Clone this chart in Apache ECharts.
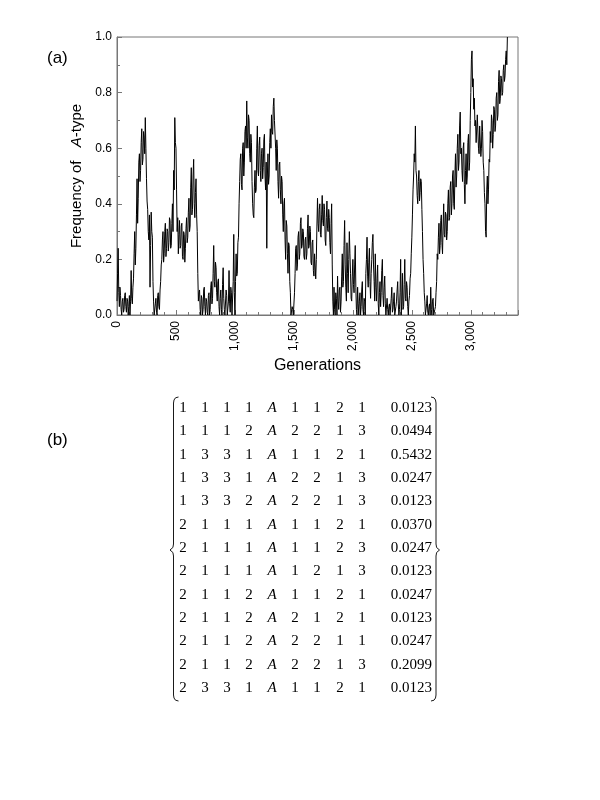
<!DOCTYPE html>
<html>
<head>
<meta charset="utf-8">
<script src="https://cdn.jsdelivr.net/npm/echarts@6/dist/echarts.min.js"></script>
<style>
html,body{margin:0;padding:0;background:#fff;}
#c{width:600px;height:800px;}
</style>
</head>
<body>
<div id="c"></div>
<script>
// Generation step between samples
var genStep = 5;
var freq0 = [0.05,0.15,0.24,0.08,0.03,0.10,0.07,0.02,0.00,0.05,0.06,0.01,0.02,0.07,0.08,0.03,0.01,0.06,0.05,0.00];
var freq1 = [0.03,0.07,0.00,0.05,0.16,0.06,0.04,0.10,0.13,0.22,0.30,0.18,0.24,0.36,0.49,0.33,0.42,0.55,0.58,0.48];
var freq2 = [0.52,0.62,0.67,0.54,0.56,0.66,0.64,0.58,0.71,0.60,0.49,0.41,0.38,0.30,0.27,0.36,0.10,0.25,0.37,0.30];
var freq3 = [0.28,0.12,0.05,0.00,0.00,0.04,0.06,0.01,0.00,0.07,0.08,0.03,0.02,0.09,0.12,0.18,0.20,0.27,0.30,0.19];
var freq4 = [0.22,0.30,0.33,0.21,0.24,0.31,0.30,0.23,0.26,0.35,0.34,0.24,0.25,0.33,0.40,0.30,0.52,0.45,0.71,0.62];
var freq5 = [0.60,0.45,0.30,0.35,0.22,0.29,0.34,0.24,0.25,0.32,0.33,0.21,0.20,0.30,0.29,0.19,0.24,0.31,0.35,0.26];
var freq6 = [0.28,0.37,0.42,0.30,0.32,0.46,0.53,0.36,0.38,0.50,0.56,0.40,0.35,0.44,0.49,0.36,0.30,0.15,0.05,0.08];
var freq7 = [0.09,0.02,0.00,0.07,0.06,0.00,0.02,0.09,0.10,0.03,0.00,0.06,0.05,0.01,0.00,0.07,0.08,0.00,0.02,0.10];
var freq8 = [0.12,0.04,0.06,0.15,0.25,0.12,0.10,0.19,0.17,0.08,0.05,0.12,0.13,0.03,0.00,0.06,0.09,0.02,0.00,0.11];
var freq9 = [0.17,0.06,0.02,0.00,0.00,0.09,0.07,0.00,0.00,0.05,0.16,0.04,0.01,0.10,0.08,0.00,0.00,0.12,0.29,0.08];
var freq10 = [0.00,0.12,0.22,0.14,0.15,0.26,0.28,0.40,0.48,0.56,0.58,0.47,0.45,0.60,0.62,0.50,0.55,0.66,0.68,0.60];
var freq11 = [0.77,0.64,0.60,0.72,0.70,0.58,0.55,0.65,0.62,0.48,0.40,0.36,0.35,0.46,0.52,0.44,0.45,0.60,0.68,0.52];
var freq12 = [0.50,0.61,0.64,0.52,0.48,0.58,0.60,0.49,0.53,0.63,0.65,0.50,0.45,0.55,0.24,0.50,0.58,0.47,0.50,0.62];
var freq13 = [0.67,0.60,0.72,0.66,0.65,0.75,0.78,0.70,0.70,0.60,0.52,0.63,0.60,0.48,0.42,0.54,0.55,0.45,0.40,0.50];
var freq14 = [0.48,0.36,0.30,0.40,0.42,0.27,0.20,0.34,0.32,0.22,0.15,0.26,0.25,0.12,0.08,0.00,0.00,0.03,0.02,0.00];
var freq15 = [0.00,0.08,0.15,0.24,0.25,0.16,0.18,0.28,0.30,0.20,0.22,0.33,0.35,0.24,0.25,0.31,0.30,0.21,0.20,0.27];
var freq16 = [0.28,0.20,0.22,0.31,0.36,0.24,0.25,0.32,0.30,0.19,0.18,0.26,0.27,0.16,0.14,0.22,0.22,0.13,0.20,0.32];
var freq17 = [0.42,0.33,0.30,0.38,0.40,0.29,0.28,0.36,0.43,0.34,0.32,0.40,0.38,0.27,0.25,0.35,0.41,0.31,0.30,0.38];
var freq18 = [0.35,0.26,0.22,0.33,0.40,0.18,0.05,0.00,0.10,0.02,0.00,0.08,0.06,0.00,0.14,0.05,0.02,0.09,0.10,0.01];
var freq19 = [0.05,0.14,0.22,0.10,0.12,0.25,0.34,0.18,0.10,0.05,0.26,0.15,0.08,0.20,0.30,0.22,0.15,0.06,0.05,0.14];
var freq20 = [0.20,0.11,0.08,0.18,0.25,0.10,0.02,0.00,0.10,0.04,0.00,0.05,0.08,0.00,0.03,0.09,0.12,0.02,0.00,0.06];
var freq21 = [0.05,0.00,0.15,0.20,0.28,0.14,0.10,0.19,0.24,0.12,0.06,0.15,0.20,0.26,0.29,0.18,0.12,0.05,0.22,0.10];
var freq22 = [0.05,0.13,0.18,0.04,0.00,0.08,0.12,0.03,0.08,0.16,0.20,0.07,0.03,0.10,0.14,0.04,0.00,0.00,0.06,0.02];
var freq23 = [0.00,0.03,0.04,0.00,0.00,0.06,0.10,0.01,0.02,0.05,0.08,0.00,0.00,0.03,0.05,0.09,0.12,0.04,0.00,0.02];
var freq24 = [0.08,0.20,0.00,0.05,0.15,0.02,0.03,0.11,0.20,0.06,0.05,0.12,0.10,0.03,0.00,0.05,0.07,0.13,0.15,0.22];
var freq25 = [0.28,0.36,0.45,0.50,0.58,0.55,0.68,0.52,0.50,0.43,0.40,0.48,0.52,0.41,0.44,0.49,0.48,0.38,0.30,0.20];
var freq26 = [0.15,0.08,0.05,0.00,0.00,0.04,0.07,0.01,0.00,0.03,0.04,0.00,0.10,0.02,0.00,0.05,0.06,0.00,0.00,0.02];
var freq27 = [0.03,0.08,0.12,0.22,0.20,0.28,0.33,0.22,0.25,0.34,0.36,0.26,0.22,0.32,0.40,0.29,0.28,0.37,0.36,0.27];
var freq28 = [0.30,0.40,0.45,0.34,0.35,0.46,0.48,0.36,0.40,0.50,0.52,0.40,0.38,0.50,0.58,0.46,0.50,0.60,0.65,0.52];
var freq29 = [0.55,0.68,0.73,0.58,0.60,0.52,0.48,0.60,0.62,0.47,0.40,0.52,0.58,0.47,0.50,0.62,0.65,0.52,0.55,0.70];
var freq30 = [0.80,0.92,0.95,0.82,0.85,0.74,0.78,0.68,0.70,0.62,0.62,0.72,0.72,0.60,0.58,0.68,0.68,0.57,0.60,0.70];
var freq31 = [0.66,0.55,0.52,0.44,0.40,0.30,0.28,0.45,0.50,0.40,0.45,0.56,0.55,0.66,0.62,0.72,0.70,0.60,0.65,0.75];
var freq32 = [0.74,0.66,0.68,0.78,0.80,0.70,0.72,0.84,0.88,0.76,0.78,0.86,0.85,0.79,0.80,0.88,0.90,0.84,0.86,0.92];
var freq33 = [0.95,0.90,1.00];

// Axis ticks
var xMin = 0, xMax = 3400, xInterval = 500;
var yMin = 0, yMax = 1, yInterval = 0.2;

// Table (b)
var tableRows = [
  ['1','1','1','1','A','1','1','2','1'],
  ['1','1','1','2','A','2','2','1','3'],
  ['1','3','3','1','A','1','1','2','1'],
  ['1','3','3','1','A','2','2','1','3'],
  ['1','3','3','2','A','2','2','1','3'],
  ['2','1','1','1','A','1','1','2','1'],
  ['2','1','1','1','A','1','1','2','3'],
  ['2','1','1','1','A','1','2','1','3'],
  ['2','1','1','2','A','1','1','2','1'],
  ['2','1','1','2','A','2','1','2','1'],
  ['2','1','1','2','A','2','2','1','1'],
  ['2','1','1','2','A','2','2','1','3'],
  ['2','3','3','1','A','1','1','2','1']
];
var tableProbs = ['0.0123','0.0494','0.5432','0.0247','0.0123','0.0370','0.0247','0.0123','0.0247','0.0123','0.0247','0.2099','0.0123'];

var freqAll = [].concat(freq0,freq1,freq2,freq3,freq4,freq5,freq6,freq7,freq8,freq9,
  freq10,freq11,freq12,freq13,freq14,freq15,freq16,freq17,freq18,freq19,
  freq20,freq21,freq22,freq23,freq24,freq25,freq26,freq27,freq28,freq29,
  freq30,freq31,freq32,freq33);
var lineData = freqAll.map(function(v,i){ return [i*genStep, v]; });

function commaFmt(v){ return String(v).replace(/\B(?=(\d{3})+(?!\d))/g, ','); }

var chart = echarts.init(document.getElementById('c'), null, {renderer:'canvas'});

// build table graphics
var graphics = [];
var colX = [183,205,227,249,272,295,317,340,362];
var rowY0 = 408, rowDY = 23.33;
var serif = '"Liberation Serif", "Times New Roman", serif';
tableRows.forEach(function(row, r){
  row.forEach(function(cell, c){
    graphics.push({
      type:'text',
      x: colX[c], y: rowY0 + r*rowDY,
      style:{ text: cell, fill:'#000',
        font: (cell === 'A' ? 'italic ' : '') + '15px ' + serif,
        textAlign:'center', textVerticalAlign:'middle' }
    });
  });
  graphics.push({
    type:'text', x: 432, y: rowY0 + r*rowDY,
    style:{ text: tableProbs[r], fill:'#000',
      font:'15px ' + serif,
      textAlign:'right', textVerticalAlign:'middle' }
  });
});
// braces
function bracePts(xo, dir){
  return [
    [xo+5*dir,397],[xo+2*dir,397.8],[xo+0.5*dir,400],[xo,403],
    [xo,544],[xo-0.6*dir,547.5],[xo-3.5*dir,550],[xo-0.6*dir,552.5],[xo,556],
    [xo,695],[xo+0.5*dir,698],[xo+2*dir,700.2],[xo+5*dir,701]
  ];
}
graphics.push({ type:'polyline', shape:{ points: bracePts(173.5, 1) }, style:{ fill:null, stroke:'#000', lineWidth:0.9 } });
graphics.push({ type:'polyline', shape:{ points: bracePts(436, -1) }, style:{ fill:null, stroke:'#000', lineWidth:0.9 } });
// panel labels
graphics.push({ type:'text', x:47, y:58, style:{ text:'(a)', fill:'#000', font:'17px "Liberation Sans", Arial, sans-serif', textVerticalAlign:'middle' }});
graphics.push({ type:'text', x:47, y:440, style:{ text:'(b)', fill:'#000', font:'17px "Liberation Sans", Arial, sans-serif', textVerticalAlign:'middle' }});

var option = {
  animation:false,
  backgroundColor:'#fff',
  textStyle:{ fontFamily:'"Liberation Sans", Arial, sans-serif' },
  grid:{ left:117, right:82, top:37, bottom:485, show:true, borderColor:'#777', borderWidth:1, backgroundColor:'transparent' },
  xAxis:{
    type:'value', min:xMin, max:xMax, interval:xInterval,
    name:'Generations', nameLocation:'middle', nameGap:43,
    nameTextStyle:{ fontSize:16, color:'#000' },
    axisLine:{ show:true, lineStyle:{ color:'#777' } },
    axisTick:{ show:true, inside:true, length:5, lineStyle:{ color:'#777' } },
    minorTick:{ show:true, splitNumber:5, length:3, lineStyle:{ color:'#777' } },
    splitLine:{ show:false },
    axisLabel:{ rotate:90, fontSize:12, color:'#000', margin:6, showMaxLabel:false, formatter: commaFmt }
  },
  yAxis:{
    type:'value', min:yMin, max:yMax, interval:yInterval,
    name:'{n|Frequency of}    {i|A}{n|-type}', nameLocation:'middle', nameGap:33,
    nameTextStyle:{ color:'#000', rich:{ n:{ fontSize:15, color:'#000' }, i:{ fontSize:15, fontStyle:'italic', color:'#000' } } },
    axisLine:{ show:true, lineStyle:{ color:'#777' } },
    axisTick:{ show:true, inside:true, length:5, lineStyle:{ color:'#777' } },
    minorTick:{ show:true, splitNumber:2, length:3, lineStyle:{ color:'#777' } },
    splitLine:{ show:false },
    axisLabel:{ fontSize:12, color:'#000', margin:5, formatter:function(v){ return v.toFixed(1); } }
  },
  series:[{
    type:'line', data:lineData, showSymbol:false, symbol:'none',
    lineStyle:{ color:'#000', width:1 }, clip:true
  }],
  graphic: graphics
};
chart.setOption(option);
</script>
</body>
</html>
